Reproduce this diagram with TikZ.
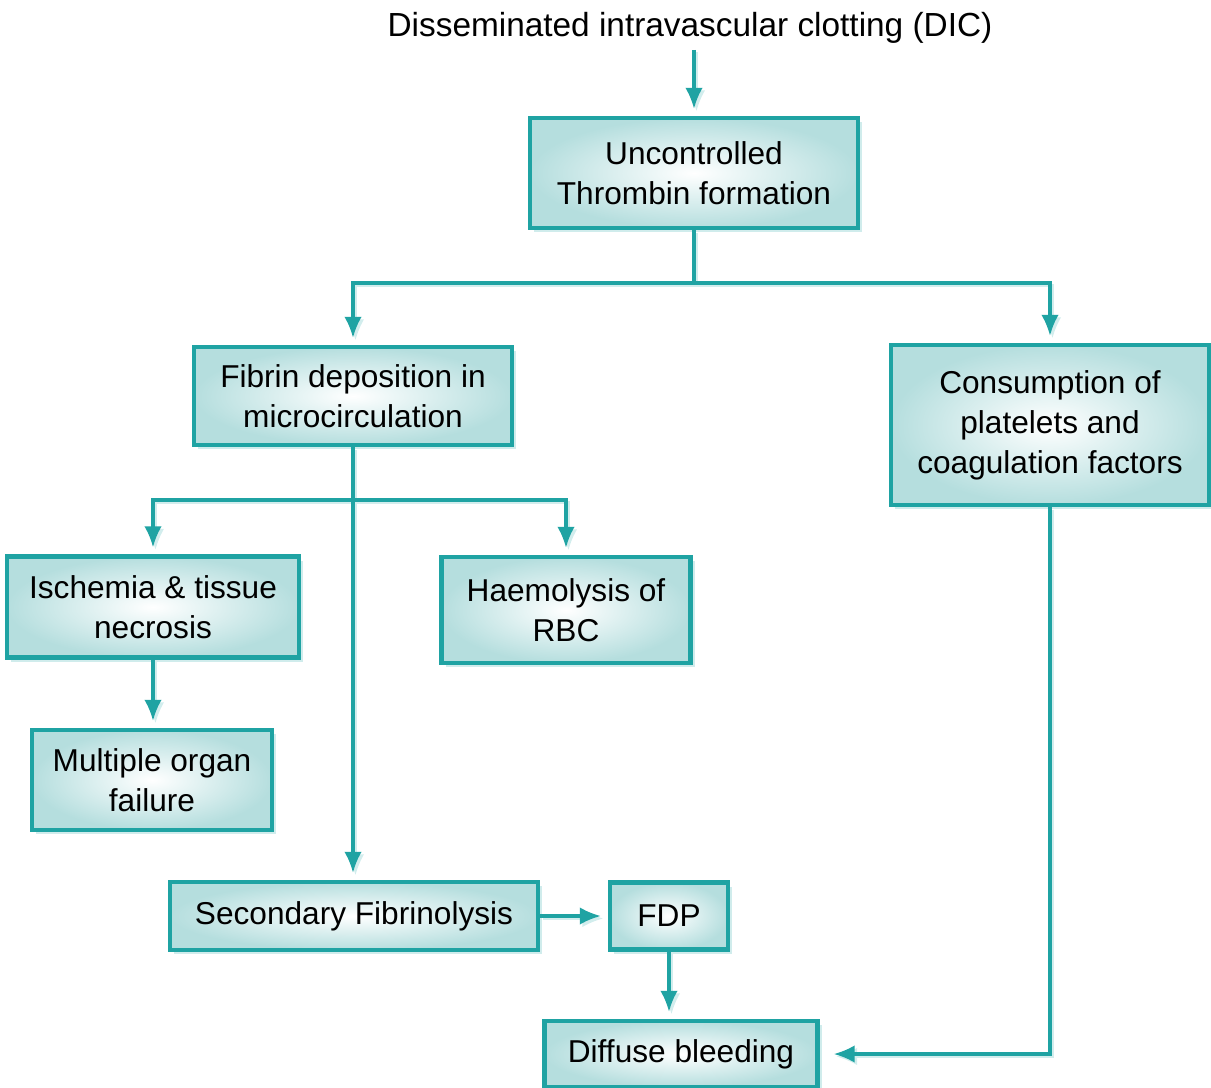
\documentclass[tikz,border=0pt]{standalone}
\usepackage{fontspec}
\setmainfont{Liberation Sans}
\usepackage{tikz}
\usetikzlibrary{arrows.meta,shadows,calc}
\definecolor{dicteal}{HTML}{1FA3A3}
\definecolor{dicpale}{HTML}{B5DEDE}

\tikzset{
  flowbox/.style={draw=dicteal, line width=2.4pt, align=center,
    inner color=white, outer color=dicpale,
    drop shadow={fill=dicteal!35, shadow xshift=2.5pt, shadow yshift=-2.5pt, opacity=0.6},
    font=\fontsize{18}{22.8}\selectfont},
  link/.style={draw=dicteal, line width=1.8pt,
    preaction={draw=dicteal!20, line width=1.4pt, transform canvas={shift={(1.4pt,-1.4pt)}}}},
  arr/.style={link, -{Latex[length=12pt,width=10pt]}, shorten >=4pt}
}

\begin{document}
\begin{tikzpicture}[x=0.02cm, y=-0.02cm]
\useasboundingbox (0,0) rectangle (1211,1088);

% titre et premier niveau
\node (title) at (690,28) {\fontsize{19}{24}\selectfont Disseminated intravascular clotting (DIC)};
\node[flowbox, minimum width=6.56cm, minimum height=2.2cm] (thromb) at (694,173) {Uncontrolled\\Thrombin formation};

% deuxième niveau
\node[flowbox, minimum width=6.36cm, minimum height=1.96cm] (fibrin) at (353,396) {Fibrin deposition in\\microcirculation};
\node[flowbox, minimum width=6.36cm, minimum height=3.2cm] (consum) at (1050,425) {Consumption of\\platelets and\\coagulation factors};

% branches de la fibrine
\node[flowbox, minimum width=5.84cm, minimum height=2.02cm] (isch) at (153,607) {Ischemia \& tissue\\necrosis};
\node[flowbox, minimum width=4.98cm, minimum height=2.12cm] (haem) at (566,610) {Haemolysis of\\RBC};
\node[flowbox, minimum width=4.8cm, minimum height=2.0cm] (organ) at (152,780) {Multiple organ\\failure};

% fibrinolyse et saignement
\node[flowbox, minimum width=7.36cm, minimum height=1.36cm] (secfib) at (354,916) {Secondary Fibrinolysis};
\node[flowbox, minimum width=2.36cm, minimum height=1.34cm] (fdp) at (669,916) {FDP};
\node[flowbox, minimum width=5.46cm, minimum height=1.32cm] (bleed) at (681,1054) {Diffuse bleeding};

% points de départ
\coordinate (split1) at (694,283);
\coordinate (split2) at (353,500);

% Flèches
\draw[arr] (thromb.north |- title.south) -- (thromb.north);
\draw[link] (thromb.south) -- (split1);
\draw[arr] (split1) -| (fibrin.north);
\draw[arr] (split1) -| (consum.north);
\draw[link] (fibrin.south) -- (split2);
\draw[arr] (split2) -| (isch.north);
\draw[arr] (split2) -| (haem.north);
\draw[arr] (split2) -- (split2 |- secfib.north);
\draw[arr] (isch.south) -- (isch.south |- organ.north);
\draw[arr] (secfib.east) -- (fdp.west);
\draw[arr] (fdp.south) -- (fdp.south |- bleed.north);
\draw[arr, shorten >=8pt] (consum.south) |- (bleed.east);
\end{tikzpicture}
\end{document}
